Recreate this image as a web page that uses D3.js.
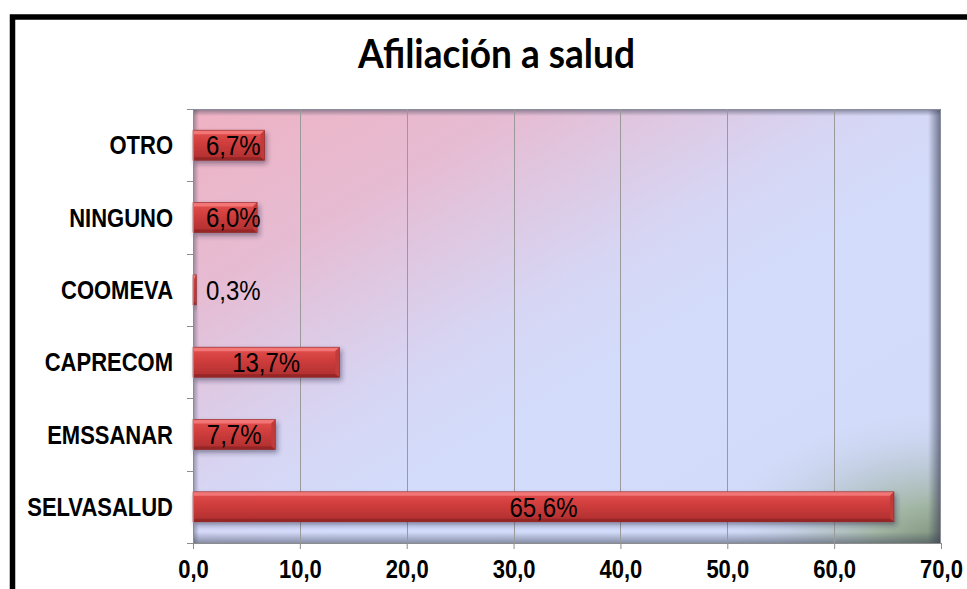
<!DOCTYPE html>
<html>
<head>
<meta charset="utf-8">
<script src="https://cdn.jsdelivr.net/npm/d3@7"></script>
<style>
  body { margin: 0; background: #fff; }
  svg { display: block; }
</style>
</head>
<body>
<svg id="chart"></svg>
<script>
// data (top to bottom as shown)
const categories = ["OTRO", "NINGUNO", "COOMEVA", "CAPRECOM", "EMSSANAR", "SELVASALUD"];
const values = [6.7, 6.0, 0.3, 13.7, 7.7, 65.6];
const tickValues = [0, 10, 20, 30, 40, 50, 60, 70];

const config = {
  width: 967,
  height: 589,
  margin: { top: 109, right: 26, bottom: 46, left: 193 },
  textStretch: 1.14
};

const es = d3.formatLocale({ decimal: ",", thousands: ".", grouping: [3], currency: ["", "€"] });
const fmt1 = es.format(".1f");

const svg = d3.select("#chart")
  .attr("width", config.width)
  .attr("height", config.height);

const innerW = config.width - config.margin.left - config.margin.right;
const innerH = config.height - config.margin.top - config.margin.bottom;

const x = d3.scaleLinear().domain([0, 70]).range([0, innerW]);
const y = d3.scaleBand().domain(categories).range([0, innerH])
  .paddingInner(0.585).paddingOuter(0.2925);

// stretch text vertically around a given y (the reference text looks tall)
const stretch = cy => `translate(0,${cy}) scale(1,${config.textStretch}) translate(0,${-cy})`;

const defs = svg.append("defs");

// plot background gradient
const bg = defs.append("linearGradient").attr("id", "bgGrad")
  .attr("x1", 0).attr("y1", 0).attr("x2", 1).attr("y2", 1);
bg.append("stop").attr("offset", "0%").attr("stop-color", "#efb2c3");
bg.append("stop").attr("offset", "22%").attr("stop-color", "#e6bcd3");
bg.append("stop").attr("offset", "45%").attr("stop-color", "#d6d6f4");
bg.append("stop").attr("offset", "58%").attr("stop-color", "#d3dcfb");
bg.append("stop").attr("offset", "100%").attr("stop-color", "#d1dbf8");

const corner = defs.append("radialGradient").attr("id", "cornerGrad")
  .attr("cx", 1).attr("cy", 1).attr("r", 0.3);
corner.append("stop").attr("offset", "0%").attr("stop-color", "#7a8f78").attr("stop-opacity", 1);
corner.append("stop").attr("offset", "30%").attr("stop-color", "#a0b4a0").attr("stop-opacity", 0.95);
corner.append("stop").attr("offset", "62%").attr("stop-color", "#b3c2c8").attr("stop-opacity", 0.6);
corner.append("stop").attr("offset", "100%").attr("stop-color", "#c8d2ee").attr("stop-opacity", 0);

// edge shadows
function edgeGrad(id, x1, y1, x2, y2, op) {
  const g = defs.append("linearGradient").attr("id", id)
    .attr("x1", x1).attr("y1", y1).attr("x2", x2).attr("y2", y2);
  g.append("stop").attr("offset", "0%").attr("stop-color", "#3c4256").attr("stop-opacity", op);
  g.append("stop").attr("offset", "100%").attr("stop-color", "#3c4256").attr("stop-opacity", 0);
}
edgeGrad("shTop", 0, 0, 0, 1, 0.55);
edgeGrad("shRight", 1, 0, 0, 0, 0.7);
edgeGrad("shBottom", 0, 1, 0, 0, 0.5);
edgeGrad("shLeft", 0, 0, 1, 0, 0.45);

// bar gradient
const bar = defs.append("linearGradient").attr("id", "barGrad")
  .attr("x1", 0).attr("y1", 0).attr("x2", 0).attr("y2", 1);
bar.append("stop").attr("offset", "0%").attr("stop-color", "#e4504f");
bar.append("stop").attr("offset", "45%").attr("stop-color", "#cf3c3c");
bar.append("stop").attr("offset", "100%").attr("stop-color", "#ad2f2f");

const shadow = defs.append("filter").attr("id", "barShadow")
  .attr("x", "-10%").attr("y", "-30%").attr("width", "130%").attr("height", "190%");
shadow.append("feDropShadow").attr("dx", 2).attr("dy", 3).attr("stdDeviation", 2.5)
  .attr("flood-color", "#202040").attr("flood-opacity", 0.45);

// outer frame
svg.append("rect")
  .attr("x", 12.5).attr("y", 17).attr("width", 1000).attr("height", 700)
  .attr("fill", "none").attr("stroke", "#000").attr("stroke-width", 5.5);

// title
svg.append("text")
  .attr("x", 496.5).attr("y", 68)
  .attr("text-anchor", "middle")
  .attr("textLength", 277).attr("lengthAdjust", "spacingAndGlyphs")
  .attr("transform", stretch(68))
  .style("font-family", "Lato, 'Open Sans', sans-serif")
  .style("font-weight", "bold")
  .style("font-size", "35px")
  .attr("fill", "#000")
  .text("Afiliación a salud");

const chart = svg.append("g")
  .attr("transform", `translate(${config.margin.left}, ${config.margin.top})`);

// plot area
chart.append("rect").attr("width", innerW).attr("height", innerH).attr("fill", "url(#bgGrad)");
chart.append("rect").attr("width", innerW).attr("height", innerH).attr("fill", "url(#cornerGrad)");
chart.append("rect").attr("width", innerW).attr("height", 7).attr("fill", "url(#shTop)");
chart.append("rect").attr("x", innerW - 13).attr("width", 13).attr("height", innerH).attr("fill", "url(#shRight)");
chart.append("rect").attr("y", innerH - 11).attr("width", innerW).attr("height", 11).attr("fill", "url(#shBottom)");
chart.append("rect").attr("width", 6).attr("height", innerH).attr("fill", "url(#shLeft)");
chart.append("path")
  .attr("d", `M0,0.5H${innerW - 0.5}V${innerH}`)
  .attr("fill", "none").attr("stroke", "#8a8e9c").attr("stroke-width", 1);

// gridlines
chart.selectAll(".grid")
  .data(tickValues.slice(1, -1))
  .join("line")
  .attr("class", "grid")
  .attr("x1", d => Math.round(x(d)) + 0.5).attr("x2", d => Math.round(x(d)) + 0.5)
  .attr("y1", 0).attr("y2", innerH)
  .attr("stroke", "#9a9a9a").attr("stroke-width", 1);

// bars
const bars = chart.selectAll(".bar")
  .data(categories.map((c, i) => ({ cat: c, val: values[i] })))
  .join("g")
  .attr("class", "bar")
  .attr("filter", "url(#barShadow)");

bars.each(function (d) {
  const g = d3.select(this);
  const x0 = x(0), x1 = x(d.val);
  const y0 = y(d.cat), y1 = y(d.cat) + y.bandwidth();
  const b = Math.min(4, (x1 - x0) / 2);
  g.append("rect")
    .attr("x", x0).attr("y", y0).attr("width", x1 - x0).attr("height", y1 - y0)
    .attr("fill", "url(#barGrad)");
  g.append("polygon")
    .attr("points", [[x0, y0], [x1, y0], [x1 - b, y0 + 4], [x0, y0 + 4]].join(" "))
    .attr("fill", "#f27676");
  g.append("polygon")
    .attr("points", [[x1, y0], [x1, y1], [x1 - b, y1 - 3], [x1 - b, y0 + 4]].join(" "))
    .attr("fill", "#c23a3a");
  g.append("polygon")
    .attr("points", [[x0, y1], [x1, y1], [x1 - b, y1 - 3], [x0, y1 - 3]].join(" "))
    .attr("fill", "#962626");
  g.append("rect")
    .attr("x", x0).attr("y", y0).attr("width", x1 - x0).attr("height", y1 - y0)
    .attr("fill", "none").attr("stroke", "#8c2b2b").attr("stroke-width", 0.6);
});

// value labels
chart.selectAll(".val")
  .data(categories.map((c, i) => ({ cat: c, val: values[i] })))
  .join("text")
  .attr("class", "val")
  .attr("y", d => y(d.cat) + y.bandwidth() / 2)
  .attr("dy", "0.36em")
  .attr("transform", d => stretch(y(d.cat) + y.bandwidth() / 2))
  .style("font-family", "'Liberation Sans', Arial, sans-serif")
  .style("font-size", "24px")
  .attr("fill", "#000")
  .text(d => fmt1(d.val) + "%")
  .each(function (d) {
    const w = this.getComputedTextLength();
    const left = Math.max(x(d.val / 2) - w / 2, x(0) + 13);
    d3.select(this).attr("x", left);
  });

// y axis line and ticks
chart.append("line")
  .attr("x1", 0.5).attr("x2", 0.5).attr("y1", 0).attr("y2", innerH)
  .attr("stroke", "#8c8c8c");
const boundaries = [0].concat(categories.map(c => y(c) + y.bandwidth() / 2 + y.step() / 2));
chart.selectAll(".ytick")
  .data(boundaries)
  .join("line")
  .attr("class", "ytick")
  .attr("x1", -6).attr("x2", 0)
  .attr("y1", d => Math.round(d) + 0.5).attr("y2", d => Math.round(d) + 0.5)
  .attr("stroke", "#8c8c8c");

chart.selectAll(".ylab")
  .data(categories)
  .join("text")
  .attr("class", "ylab")
  .attr("x", -20)
  .attr("y", d => y(d) + y.bandwidth() / 2)
  .attr("dy", "0.36em")
  .attr("transform", d => stretch(y(d) + y.bandwidth() / 2))
  .attr("text-anchor", "end")
  .style("font-family", "'Liberation Sans', Arial, sans-serif")
  .style("font-weight", "bold")
  .style("font-size", "22px")
  .text(d => d);

// x axis
const xAxis = d3.axisBottom(x)
  .tickValues(tickValues)
  .tickFormat(fmt1)
  .tickSize(6)
  .tickPadding(13);

const xg = chart.append("g")
  .attr("transform", `translate(0, ${innerH})`)
  .call(xAxis);
xg.select(".domain").attr("stroke", "#8c8c8c");
xg.selectAll(".tick line").attr("stroke", "#8c8c8c");
xg.selectAll(".tick text")
  .attr("transform", stretch(29))
  .style("font-family", "'Liberation Sans', Arial, sans-serif")
  .style("font-weight", "bold")
  .style("font-size", "22px")
  .attr("fill", "#000");
</script>
</body>
</html>
